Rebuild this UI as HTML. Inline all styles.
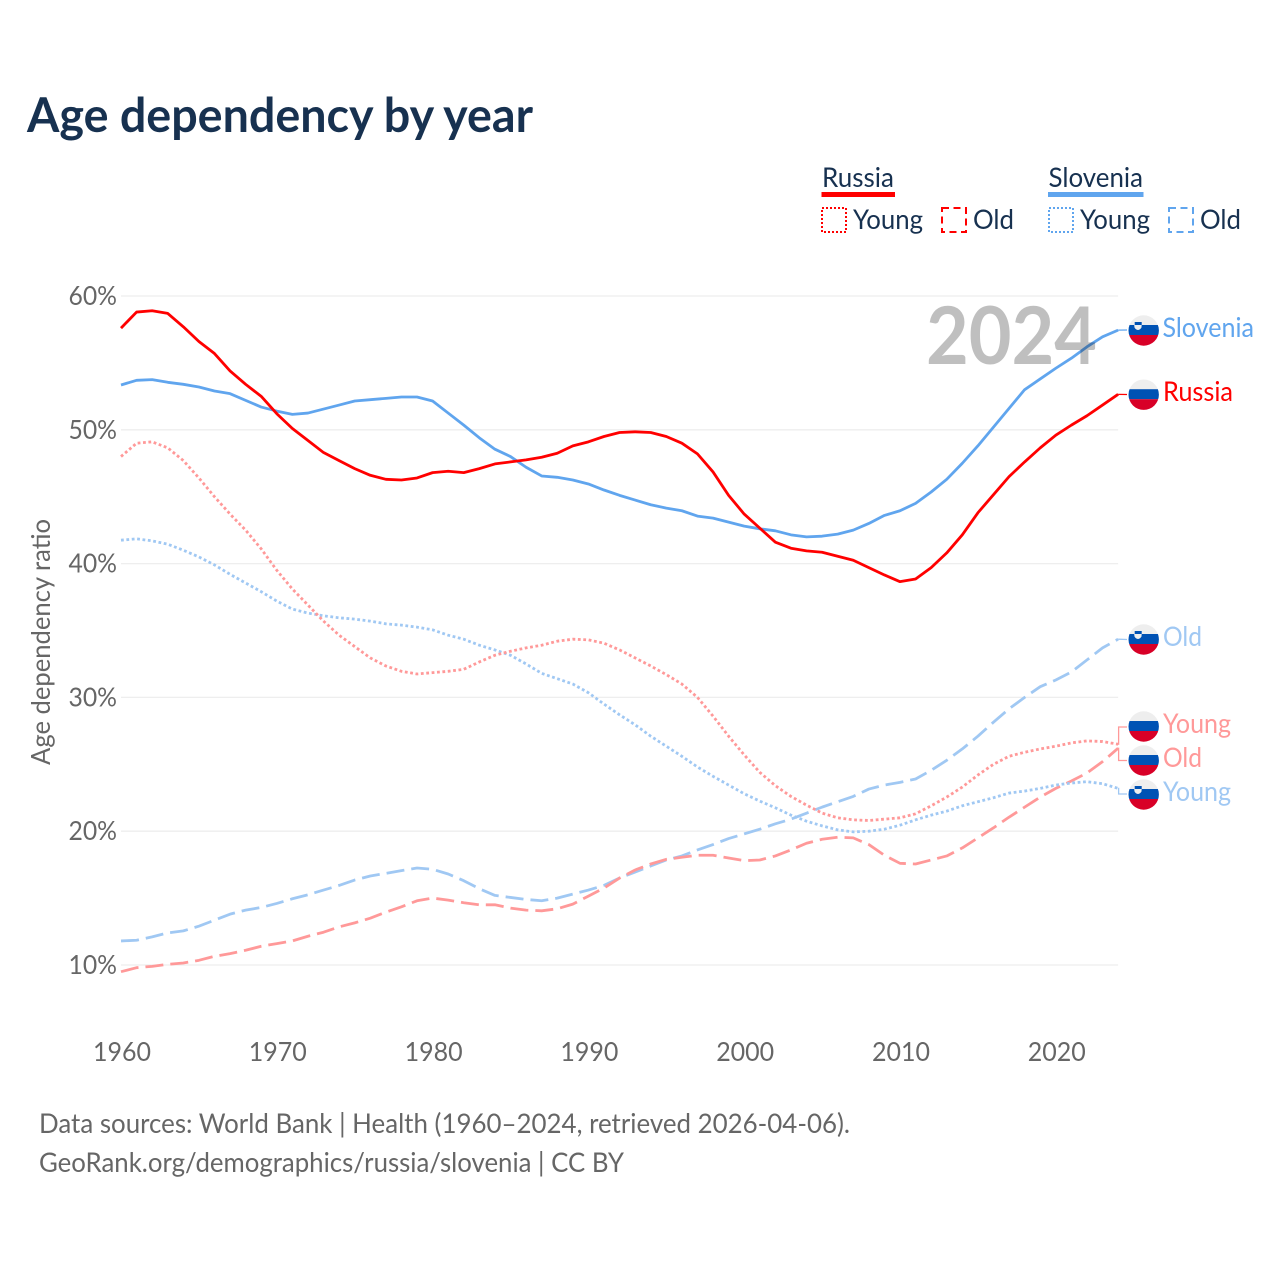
<!DOCTYPE html>
<html lang="en">
<head>
<meta charset="utf-8">
<title>Age dependency by year</title>
<style>
html,body{margin:0;padding:0;background:#fff;width:1280px;height:1280px;overflow:hidden}
svg{display:block}
text{font-family:"Lato","Carlito","Liberation Sans",sans-serif}
</style>
</head>
<body>
<svg id="chart" width="1280" height="1280" viewBox="0 0 1280 1280" xmlns="http://www.w3.org/2000/svg">
<defs>
<clipPath id="flag-clip"><circle cx="0" cy="0" r="15.2"/></clipPath>
<g id="flag-ru">
<g clip-path="url(#flag-clip)">
<rect x="-16" y="-16" width="32" height="10.5" fill="#eeeeee"/>
<rect x="-16" y="-5.5" width="32" height="10" fill="#0052b4"/>
<rect x="-16" y="4.5" width="32" height="11.5" fill="#d80027"/>
</g>
</g>
<g id="flag-si">
<g clip-path="url(#flag-clip)">
<rect x="-16" y="-16" width="32" height="10.5" fill="#eeeeee"/>
<rect x="-16" y="-5.5" width="32" height="10" fill="#0052b4"/>
<rect x="-16" y="4.5" width="32" height="11.5" fill="#d80027"/>
<rect x="-9" y="-8.5" width="7" height="3.5" fill="#0052b4"/>
<path d="M-9.5,-5.5 L-2,-5.5 L-2.2,-3 Q-3.5,-0.8 -5.7,-0.5 Q-8,-0.8 -9.2,-3 Z" fill="#eeeeee"/>
</g>
</g>
</defs>

<text x="27" y="132" font-size="47.5" font-weight="700" fill="#173150" textLength="506" lengthAdjust="spacingAndGlyphs">Age dependency by year</text>

<g>
<text x="822" y="187" font-size="27.5" fill="#173150" textLength="72" lengthAdjust="spacingAndGlyphs">Russia</text>
<rect x="821.5" y="192" width="73.5" height="5" fill="#ff0000"/>
<rect x="822" y="208" width="24" height="24" fill="none" stroke="#ff0000" stroke-width="2" stroke-dasharray="2 2"/>
<text x="853" y="229" font-size="27.5" fill="#173150" textLength="70" lengthAdjust="spacingAndGlyphs">Young</text>
<rect x="942" y="208" width="24" height="24" fill="none" stroke="#ff0000" stroke-width="2" stroke-dasharray="7 4.5"/>
<text x="973" y="229" font-size="27.5" fill="#173150" textLength="41" lengthAdjust="spacingAndGlyphs">Old</text>
<text x="1048.5" y="187" font-size="27.5" fill="#173150" textLength="94.5" lengthAdjust="spacingAndGlyphs">Slovenia</text>
<rect x="1048" y="192" width="95.5" height="5" fill="#60a5ee"/>
<rect x="1049" y="208" width="24" height="24" fill="none" stroke="#60a5ee" stroke-width="2" stroke-dasharray="2 2"/>
<text x="1080" y="229" font-size="27.5" fill="#173150" textLength="70" lengthAdjust="spacingAndGlyphs">Young</text>
<rect x="1169" y="208" width="24" height="24" fill="none" stroke="#60a5ee" stroke-width="2" stroke-dasharray="7 4.5"/>
<text x="1200" y="229" font-size="27.5" fill="#173150" textLength="41" lengthAdjust="spacingAndGlyphs">Old</text>
</g>

<g id="grid"></g>
<g id="yticks"></g>
<g id="xticks"></g>

<text transform="translate(50,642) rotate(-90)" text-anchor="middle" font-size="26.5" fill="#666666" textLength="246" lengthAdjust="spacingAndGlyphs">Age dependency ratio</text>

<g id="series"></g>
<g id="connectors"></g>

<text x="1097" y="364" text-anchor="end" font-size="80" font-weight="700" fill="#000000" fill-opacity="0.25" textLength="171" lengthAdjust="spacingAndGlyphs">2024</text>

<g>
<use href="#flag-si" x="1143.7" y="330.5"/>
<text x="1162.5" y="337" font-size="27.5" fill="#60a5ee" textLength="91.5" lengthAdjust="spacingAndGlyphs">Slovenia</text>
<use href="#flag-ru" x="1143.7" y="394.7"/>
<text x="1163" y="401" font-size="27.5" fill="#ff0000" textLength="70" lengthAdjust="spacingAndGlyphs">Russia</text>
<use href="#flag-si" x="1143.7" y="639.5"/>
<text x="1163" y="646" font-size="27.5" fill="#a0c8f3" textLength="39" lengthAdjust="spacingAndGlyphs">Old</text>
<use href="#flag-ru" x="1143.7" y="726.5"/>
<text x="1163" y="733" font-size="27.5" fill="#ff9999" textLength="68" lengthAdjust="spacingAndGlyphs">Young</text>
<use href="#flag-ru" x="1143.7" y="760.5"/>
<text x="1163" y="767" font-size="27.5" fill="#ff9999" textLength="39" lengthAdjust="spacingAndGlyphs">Old</text>
<use href="#flag-si" x="1143.7" y="794.5"/>
<text x="1163" y="801" font-size="27.5" fill="#a0c8f3" textLength="68" lengthAdjust="spacingAndGlyphs">Young</text>
</g>

<text x="39" y="1133" font-size="27.5" fill="#666666" textLength="811" lengthAdjust="spacingAndGlyphs">Data sources: World Bank | Health (1960–2024, retrieved 2026-04-06).</text>
<text x="39" y="1172" font-size="27.5" fill="#666666" textLength="585" lengthAdjust="spacingAndGlyphs">GeoRank.org/demographics/russia/slovenia | CC BY</text>
</svg>

<script>
var yearStart = 1960;
var xTickLabels = ["1960","1970","1980","1990","2000","2010","2020"];
var yTickValues = [10,20,30,40,50,60];

var russiaTotal = [57.6,58.8,58.9,58.7,57.7,56.6,55.7,54.4,53.4,52.5,51.2,50.1,49.2,48.3,47.7,47.1,46.6,46.3,46.25,46.4,46.8,46.9,46.8,47.1,47.45,47.6,47.75,47.95,48.25,48.8,49.1,49.5,49.8,49.85,49.8,49.5,49,48.2,46.85,45.1,43.7,42.65,41.6,41.15,40.95,40.85,40.55,40.25,39.7,39.15,38.65,38.85,39.7,40.8,42.15,43.8,45.15,46.5,47.6,48.65,49.6,50.35,51.05,51.85,52.65];
var sloveniaTotal = [53.35,53.7,53.75,53.55,53.4,53.2,52.9,52.7,52.2,51.7,51.4,51.15,51.25,51.55,51.85,52.15,52.25,52.35,52.45,52.45,52.15,51.25,50.35,49.4,48.55,48,47.2,46.55,46.45,46.25,45.95,45.5,45.1,44.75,44.4,44.15,43.95,43.55,43.4,43.1,42.8,42.6,42.45,42.15,42,42.05,42.2,42.5,43,43.6,43.95,44.5,45.35,46.3,47.5,48.8,50.2,51.6,53,53.8,54.6,55.35,56.2,56.95,57.45];
var russiaYoung = [48,49,49.1,48.65,47.7,46.4,45,43.7,42.5,41.1,39.5,38.1,36.9,35.7,34.65,33.8,32.95,32.35,31.95,31.75,31.85,31.95,32.1,32.65,33.15,33.45,33.7,33.9,34.2,34.35,34.3,34.05,33.55,32.95,32.35,31.7,31,30,28.6,27.1,25.7,24.4,23.4,22.6,21.95,21.35,21,20.85,20.8,20.9,21,21.3,21.9,22.55,23.3,24.2,25,25.6,25.9,26.15,26.35,26.6,26.75,26.7,26.5];
var russiaOld = [9.5,9.8,9.9,10.05,10.15,10.35,10.65,10.85,11.1,11.4,11.6,11.8,12.15,12.45,12.85,13.15,13.5,13.95,14.35,14.8,15,14.85,14.65,14.5,14.5,14.25,14.1,14.05,14.2,14.55,15.15,15.75,16.5,17.1,17.55,17.9,18.05,18.2,18.2,18,17.8,17.85,18.15,18.6,19.1,19.4,19.55,19.5,19,18.2,17.6,17.55,17.85,18.15,18.75,19.5,20.25,21.05,21.8,22.55,23.2,23.75,24.35,25.2,26.2];
var sloveniaYoung = [41.75,41.85,41.7,41.45,41,40.5,39.9,39.2,38.55,37.9,37.2,36.6,36.3,36.1,35.95,35.85,35.7,35.5,35.4,35.25,35.05,34.65,34.35,33.9,33.55,33.15,32.5,31.8,31.4,31,30.35,29.5,28.7,27.95,27.1,26.35,25.6,24.8,24.1,23.45,22.8,22.25,21.75,21.2,20.75,20.4,20.1,19.95,20,20.15,20.45,20.85,21.2,21.5,21.9,22.2,22.5,22.85,23,23.2,23.45,23.6,23.7,23.55,23.2];
var sloveniaOld = [11.8,11.85,12.1,12.4,12.55,12.9,13.35,13.8,14.1,14.3,14.6,14.95,15.25,15.6,15.95,16.35,16.65,16.85,17.05,17.25,17.15,16.8,16.3,15.7,15.2,15.05,14.9,14.8,15,15.3,15.6,15.95,16.5,16.95,17.4,17.85,18.15,18.6,19,19.45,19.8,20.15,20.55,20.9,21.35,21.8,22.2,22.6,23.15,23.45,23.65,23.9,24.55,25.3,26.15,27.1,28.15,29.15,30,30.8,31.3,31.9,32.8,33.7,34.35];

var NS = "http://www.w3.org/2000/svg";
function xScale(year){ return 121 + (year - 1960) * 15.58; }
function yScale(v){ return 965 - (v - 10) * 13.38; }

var gridG = document.getElementById("grid");
var yG = document.getElementById("yticks");
var xG = document.getElementById("xticks");
var seriesG = document.getElementById("series");
var connG = document.getElementById("connectors");

yTickValues.forEach(function(v){
  var line = document.createElementNS(NS,"line");
  
  
  line.setAttribute("x1", xScale(1960));
  line.setAttribute("x2", xScale(2024));
  line.setAttribute("y1", yScale(v));
  line.setAttribute("y2", yScale(v));
  line.setAttribute("stroke", "#eeeeee");
  line.setAttribute("stroke-width", "1.3");
  gridG.appendChild(line);
  var t = document.createElementNS(NS,"text");
  
  
  t.setAttribute("x", 117);
  t.setAttribute("y", yScale(v) + 9);
  t.setAttribute("text-anchor", "end");
  t.setAttribute("font-size", "26.5");
  t.setAttribute("fill", "#666666");
  t.setAttribute("textLength", "48.5");
  t.setAttribute("lengthAdjust", "spacingAndGlyphs");
  t.textContent = v + "%";
  yG.appendChild(t);
});

xTickLabels.forEach(function(label){
  var t = document.createElementNS(NS,"text");
  
  
  t.setAttribute("x", xScale(Number(label)) + 1);
  t.setAttribute("y", 1061);
  t.setAttribute("text-anchor", "middle");
  t.setAttribute("font-size", "26.5");
  t.setAttribute("fill", "#666666");
  t.setAttribute("textLength", "58");
  t.setAttribute("lengthAdjust", "spacingAndGlyphs");
  t.textContent = label;
  xG.appendChild(t);
});

function drawSeries(values, name, color, dash, labelY){
  var pts = values.map(function(v,i){ return xScale(yearStart + i).toFixed(2) + "," + yScale(v).toFixed(2); }).join(" ");
  var line = document.createElementNS(NS,"polyline");
  
  
  line.setAttribute("points", pts);
  line.setAttribute("fill", "none");
  line.setAttribute("stroke", color);
  line.setAttribute("stroke-width", "2.8");
  line.setAttribute("stroke-linejoin", "round");
  if (dash) line.setAttribute("stroke-dasharray", dash);
  seriesG.appendChild(line);

  var ex = xScale(yearStart + values.length - 1);
  var ey = yScale(values[values.length - 1]);
  var c = document.createElementNS(NS,"path");
  
  
  var d;
  if (Math.abs(ey - labelY) < 2.5) {
    d = "M" + ex + "," + ey + " L1127," + labelY;
  } else {
    d = "M" + ex + "," + ey + " L" + (ex + 0.5) + "," + ey + " L" + (ex + 0.5) + "," + labelY + " L1127," + labelY;
  }
  c.setAttribute("d", d);
  c.setAttribute("fill", "none");
  c.setAttribute("stroke", color);
  c.setAttribute("stroke-width", "1.3");
  connG.appendChild(c);
}

drawSeries(sloveniaOld, "slovenia-old-line", "#a0c8f3", "18 7", 639.5);
drawSeries(russiaOld, "russia-old-line", "#ff9999", "18 7", 760.5);
drawSeries(sloveniaYoung, "slovenia-young-line", "#a0c8f3", "2.8 2.6", 794);
drawSeries(russiaYoung, "russia-young-line", "#ff9999", "2.8 2.6", 727);
drawSeries(sloveniaTotal, "slovenia-total-line", "#60a5ee", "", 330);
drawSeries(russiaTotal, "russia-total-line", "#ff0000", "", 394.5);
</script>
</body>
</html>
